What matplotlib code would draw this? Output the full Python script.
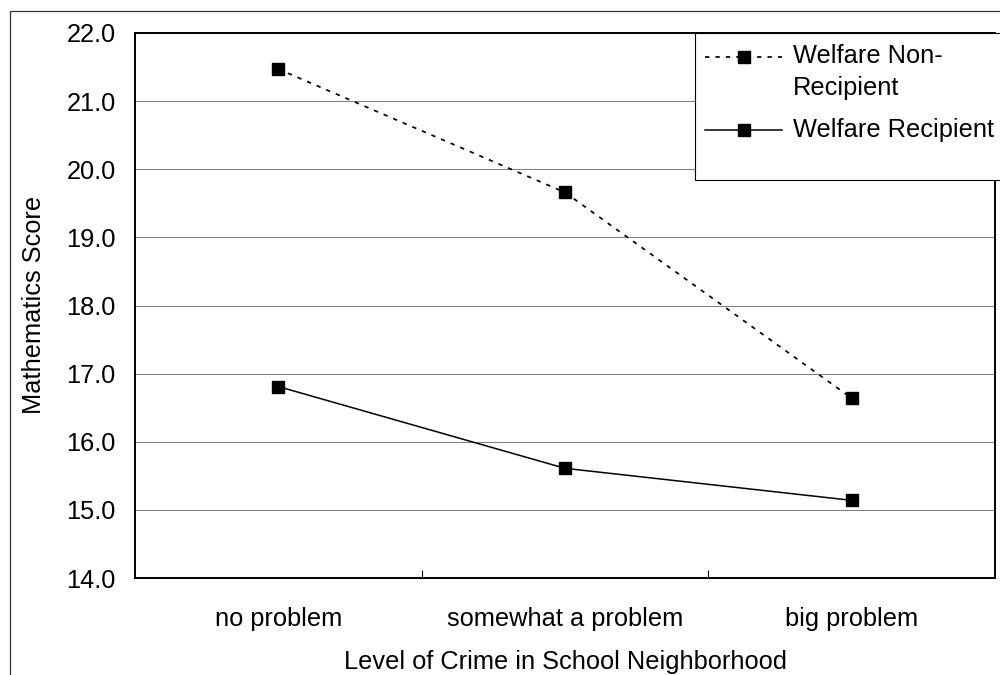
import matplotlib
matplotlib.use("Agg")
import matplotlib.pyplot as plt
from matplotlib.lines import Line2D
from matplotlib.patches import Rectangle

# ---- data ----
categories = ["no problem", "somewhat a problem", "big problem"]
non_recipient = [21.47, 19.66, 16.64]
recipient = [16.81, 15.61, 15.14]
y_ticks = [14, 15, 16, 17, 18, 19, 20, 21, 22]
series_labels = ["Welfare Non-\nRecipient", "Welfare Recipient"]
x_title = "Level of Crime in School Neighborhood"
y_title = "Mathematics Score"

plt.rcParams['font.family'] = ['Liberation Sans', 'DejaVu Sans']
FS = 18.3
W, H = 1000, 675

fig = plt.figure(figsize=(10, 6.75), dpi=100)
fig.patch.set_facecolor("white")


def fx(px):
    return px / W


def fy(py):
    return 1 - py / H


# outer frame
fig.patches.append(Rectangle((fx(10), fy(700)), fx(1010) - fx(10), fy(11) - fy(700),
                             transform=fig.transFigure, fill=False,
                             edgecolor="#333333", lw=0.9, zorder=0))

ax = fig.add_axes([fx(135), fy(578), fx(995) - fx(135), fy(33) - fy(578)])
ax.set_zorder(1)
x = list(range(len(categories)))

ax.plot(x, non_recipient, color="black", lw=1.25, linestyle=(0, (2.5, 3.5)),
        marker="s", markersize=8, zorder=3)
ax.plot(x, recipient, color="black", lw=1.1, linestyle="-",
        marker="s", markersize=8, zorder=3)

ax.set_xlim(-0.5, len(categories) - 0.5)
ax.set_ylim(y_ticks[0], y_ticks[-1])
ax.set_yticks(y_ticks)
ax.set_yticklabels([f"{v:.1f}" for v in y_ticks], fontsize=FS)
ax.tick_params(axis="y", length=0, pad=14)

# boundary ticks (major) and category labels (minor)
ax.set_xticks([i + 0.5 for i in x[:-1]])
ax.set_xticklabels([])
ax.tick_params(axis="x", which="major", direction="in", length=5.5, width=0.8)
ax.set_xticks(x, minor=True)
ax.set_xticklabels(categories, minor=True, fontsize=FS)
ax.tick_params(axis="x", which="minor", length=0, pad=21)

for v in y_ticks[1:-1]:
    ax.axhline(v, color="#808080", lw=0.75, zorder=1)

for s in ax.spines.values():
    s.set_linewidth(1.4)
    s.set_color("black")

fig.text(fx(565), fy(669), x_title, ha="center", va="baseline", fontsize=FS)
fig.text(fx(34), fy(305), y_title, ha="center", va="center", rotation=90, fontsize=FS)

# legend (manual, drawn above the axes)
fig.patches.append(Rectangle((fx(695), fy(180)), fx(1015) - fx(695), fy(33) - fy(180),
                             transform=fig.transFigure, facecolor="white",
                             edgecolor="black", lw=0.8, zorder=5))
l1 = Line2D([fx(705), fx(744), fx(782)], [fy(56.7)] * 3, transform=fig.transFigure,
            color="black", lw=1.25, linestyle=(0, (2.5, 3.5)), marker="s",
            markersize=8, markevery=[1], zorder=6)
l2 = Line2D([fx(705), fx(744), fx(782)], [fy(130)] * 3, transform=fig.transFigure,
            color="black", lw=1.1, linestyle="-", marker="s",
            markersize=8, markevery=[1], zorder=6)
fig.lines.extend([l1, l2])
first, second = series_labels[0].split("\n")
fig.text(fx(793), fy(63.3), first, ha="left", va="baseline", fontsize=FS, zorder=7)
fig.text(fx(793), fy(95), second, ha="left", va="baseline", fontsize=FS, zorder=7)
fig.text(fx(793), fy(136.7), series_labels[1], ha="left", va="baseline", fontsize=FS, zorder=7)

fig.savefig("out.png", dpi=100, facecolor="white")
